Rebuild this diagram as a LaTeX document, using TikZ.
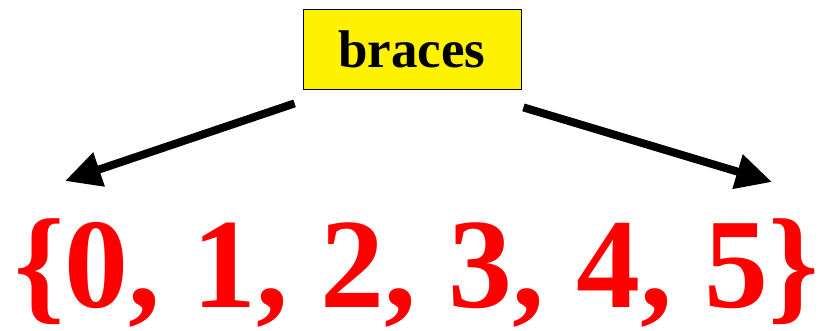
\documentclass[tikz,border=0pt]{standalone}
\usepackage{fontspec}
\setmainfont{Liberation Serif}
\usetikzlibrary{arrows.meta,positioning,calc}

\begin{document}
\begin{tikzpicture}[
    box/.style={draw, fill=yellow, line width=0.8pt, minimum width=218pt, minimum height=80pt,
                inner sep=0pt, font=\fontsize{53}{60}\selectfont\bfseries},
    set/.style={text=red, inner sep=0pt, font=\fontsize{128}{140}\selectfont\bfseries},
    arrow/.style={-{Triangle[length=36pt,width=34pt]}, line width=8pt}
]
    \useasboundingbox (0,0) rectangle (835pt,-331pt);

    % Label
    \node[box] (label) at (412pt,-49pt) {braces};

    % Set
    \node[set, anchor=base] (numbers) at (417pt,-307pt) {\{0, 1, 2, 3, 4, 5\}};

    % Arrow ends
    \coordinate (lend) at (65pt,-181pt);
    \coordinate (rend) at (772pt,-182pt);

    \draw[arrow] ($(label.south west)+(-8pt,-14pt)$) -- (lend);
    \draw[arrow] ($(label.south east)+(2pt,-18pt)$) -- (rend);
\end{tikzpicture}
\end{document}
